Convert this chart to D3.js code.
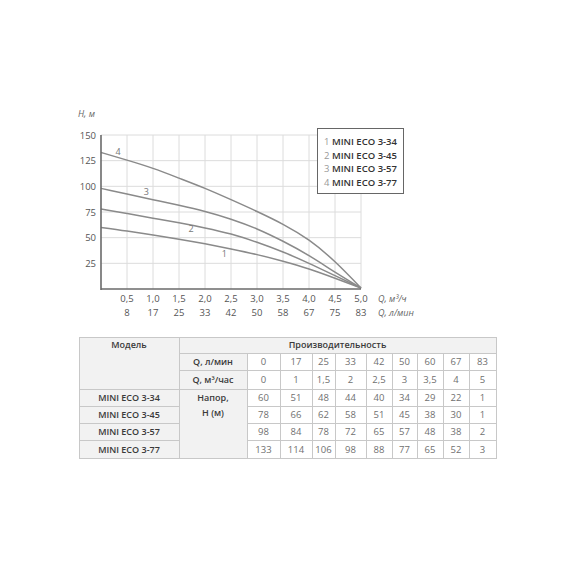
<!DOCTYPE html>
<html>
<head>
<meta charset="utf-8">
<script src="https://cdn.jsdelivr.net/npm/d3@7"></script>
<style>
html,body{margin:0;padding:0;background:#fff;}
svg{display:block;font-family:"Open Sans",sans-serif;}
</style>
</head>
<body>
<svg id="c" width="570" height="570"></svg>
<script>
// ---- table data ----
const qM3 = [0, 1, 1.5, 2, 2.5, 3, 3.5, 4, 5];
const qLmin = [0, 17, 25, 33, 42, 50, 60, 67, 83];
const models = ["MINI ECO 3-34", "MINI ECO 3-45", "MINI ECO 3-57", "MINI ECO 3-77"];
const head34 = [60, 51, 48, 44, 40, 34, 29, 22, 1];
const head45 = [78, 66, 62, 58, 51, 45, 38, 30, 1];
const head57 = [98, 84, 78, 72, 65, 57, 48, 38, 2];
const head77 = [133, 114, 106, 98, 88, 77, 65, 52, 3];
const heads = [head34, head45, head57, head77];
// ---- curve data as drawn on the chart (read at 0.5 m3/h steps) ----
const curveQ = [0, 0.5, 1, 1.5, 2, 2.5, 3, 3.5, 4, 4.5, 5];
const curve34 = [60, 56.5, 52.5, 48.5, 44, 39, 33.5, 27, 19.5, 10.5, 1];
const curve45 = [78, 73.5, 69, 64.5, 59.5, 53.5, 45.5, 36, 25, 13, 1];
const curve57 = [98, 92.5, 87, 81.5, 75.5, 68, 58.5, 46.5, 32.5, 16.5, 1];
const curve77 = [133, 125.5, 117.5, 108, 98, 87, 75.5, 63, 47.5, 26.5, 1];
const curves = [curve34, curve45, curve57, curve77];
// ---- tick labels ----
const xTicksM3 = ["0,5","1,0","1,5","2,0","2,5","3,0","3,5","4,0","4,5","5,0"];
const xTicksL = ["8","17","25","33","42","50","58","67","75","83"];
const xTickVals = [0.5,1,1.5,2,2.5,3,3.5,4,4.5,5];
const yTickVals = [25,50,75,100,125,150];

const svg = d3.select("#c");
const x = d3.scaleLinear().domain([0,5]).range([101,361]);
const y = d3.scaleLinear().domain([0,150]).range([289,135]);

// grid
const g = svg.append("g");
g.selectAll("line.v").data(xTickVals).join("line")
  .attr("x1",d=>x(d)).attr("x2",d=>x(d)).attr("y1",y(0)).attr("y2",y(150))
  .attr("stroke","#dcdcdc").attr("stroke-width",1);
g.selectAll("line.h").data(yTickVals).join("line")
  .attr("x1",x(0)).attr("x2",x(5)).attr("y1",d=>y(d)).attr("y2",d=>y(d))
  .attr("stroke","#dcdcdc").attr("stroke-width",1);

// curves
const line = d3.line().x((d,i)=>x(curveQ[i])).y(d=>y(d)).curve(d3.curveNatural);
g.selectAll("path.c").data(curves).join("path")
  .attr("d",line).attr("fill","none").attr("stroke","#8a8a8a").attr("stroke-width",1.5);

// axes
svg.append("line").attr("x1",x(0)).attr("x2",x(0)).attr("y1",y(150)).attr("y2",y(0)+1)
  .attr("stroke","#6a6a6a").attr("stroke-width",1.6);
svg.append("line").attr("x1",x(0)).attr("x2",x(5)).attr("y1",y(0)).attr("y2",y(0))
  .attr("stroke","#6a6a6a").attr("stroke-width",1.6);

// curve numbers
const lblX = [2.37, 1.73, 0.87, 0.33];
const lblDy = [9.5, 7, -3, -3];
curves.forEach((h,i)=>{
  const interp = d3.scaleLinear().domain(curveQ).range(h);
  svg.append("text").attr("x",x(lblX[i])).attr("y",y(interp(lblX[i]))+lblDy[i])
    .attr("text-anchor","middle").attr("font-size",9).attr("fill","#777").text(i+1);
});

// y tick labels
svg.selectAll("text.yt").data(yTickVals).join("text")
  .attr("x",96).attr("y",d=>y(d)+3.5).attr("text-anchor","end")
  .attr("font-size",9.5).attr("fill","#555").text(d=>d);
svg.append("text").attr("x",78).attr("y",117).attr("font-size",9).attr("font-style","italic")
  .attr("fill","#666").text("H, м");

// x tick labels
svg.selectAll("text.xt1").data(xTickVals).join("text")
  .attr("x",d=>x(d)).attr("y",302).attr("text-anchor","middle")
  .attr("font-size",9.5).attr("fill","#555").text((d,i)=>xTicksM3[i]);
svg.selectAll("text.xt2").data(xTickVals).join("text")
  .attr("x",d=>x(d)).attr("y",316).attr("text-anchor","middle")
  .attr("font-size",9.5).attr("fill","#555").text((d,i)=>xTicksL[i]);
svg.append("text").attr("x",378).attr("y",302).attr("font-size",9).attr("font-style","italic")
  .attr("fill","#666").text("Q, м³/ч");
svg.append("text").attr("x",378).attr("y",316).attr("font-size",9).attr("font-style","italic")
  .attr("fill","#666").text("Q, л/мин");

// legend
const lg = svg.append("g");
lg.append("rect").attr("x",317.5).attr("y",128.5).attr("width",86).attr("height",65)
  .attr("fill","#fff").attr("stroke","#666").attr("stroke-width",1);
models.forEach((m,i)=>{
  const t = lg.append("text").attr("x",324).attr("y",145+i*13.7).attr("font-size",9.5);
  t.append("tspan").attr("fill","#999").text((i+1)+" ");
  t.append("tspan").attr("fill","#333").attr("font-weight",600).text(m);
});

// table
const colX = [79,179,247,280,312,335,366,392,417,443,469,496];
const rowY = [337,353,370,389,406,423,440,458];
const tb = svg.append("g");
const hdrFill = "#f2f2f2", bc = "#c8c8c8";
function cell(x0,y0,x1,y1,fill){
  tb.append("rect").attr("x",x0+0.5).attr("y",y0+0.5).attr("width",x1-x0).attr("height",y1-y0)
    .attr("fill",fill).attr("stroke",bc).attr("stroke-width",1);
}
function txt(cx,cy,s,opt={}){
  return tb.append("text").attr("x",cx).attr("y",cy).attr("text-anchor","middle")
    .attr("font-size",opt.size||9.5).attr("font-weight",opt.w||400)
    .attr("fill",opt.c||"#707070").text(s);
}
const lab = {w:600,c:"#3a3a3a",size:9};
cell(colX[0],rowY[0],colX[1],rowY[3],hdrFill);
txt((colX[0]+colX[1])/2,rowY[0]+11,"Модель",lab);
cell(colX[1],rowY[0],colX[11],rowY[1],hdrFill);
txt((colX[1]+colX[11])/2,rowY[0]+11,"Производительность",lab);
const qLabels = ["Q, л/мин","Q, м³/час"];
const qRows = [qLmin, qM3.map(v=>String(v).replace(".",","))];
qRows.forEach((r,ri)=>{
  cell(colX[1],rowY[1+ri],colX[2],rowY[2+ri],hdrFill);
  txt((colX[1]+colX[2])/2,(rowY[1+ri]+rowY[2+ri])/2+3.5,qLabels[ri],lab);
  r.forEach((v,ci)=>{
    cell(colX[2+ci],rowY[1+ri],colX[3+ci],rowY[2+ri],"#fff");
    txt((colX[2+ci]+colX[3+ci])/2,(rowY[1+ri]+rowY[2+ri])/2+3.5,v);
  });
});
cell(colX[1],rowY[3],colX[2],rowY[7],hdrFill);
txt((colX[1]+colX[2])/2,rowY[3]+12,"Напор,",lab);
txt((colX[1]+colX[2])/2,rowY[3]+27,"Н (м)",lab);
heads.forEach((h,ri)=>{
  cell(colX[0],rowY[3+ri],colX[1],rowY[4+ri],hdrFill);
  txt((colX[0]+colX[1])/2,(rowY[3+ri]+rowY[4+ri])/2+3.5,models[ri],lab);
  h.forEach((v,ci)=>{
    cell(colX[2+ci],rowY[3+ri],colX[3+ci],rowY[4+ri],"#fff");
    txt((colX[2+ci]+colX[3+ci])/2,(rowY[3+ri]+rowY[4+ri])/2+3.5,v);
  });
});
</script>
</body>
</html>
